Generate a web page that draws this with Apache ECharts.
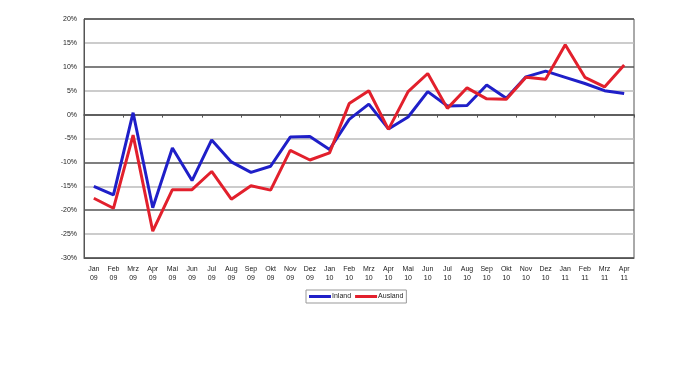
<!DOCTYPE html>
<html>
<head>
<meta charset="utf-8">
<script src="https://cdn.jsdelivr.net/npm/echarts@6/dist/echarts.min.js"></script>
<style>
html,body{margin:0;padding:0;background:#fff;}
#chart{width:700px;height:371px;}
</style>
</head>
<body>
<div id="chart"></div>
<script>
const months = ['Jan','Feb','Mrz','Apr','Mai','Jun','Jul','Aug','Sep','Okt','Nov','Dez','Jan','Feb','Mrz','Apr','Mai','Jun','Jul','Aug','Sep','Okt','Nov','Dez','Jan','Feb','Mrz','Apr'];
const years = ['09','09','09','09','09','09','09','09','09','09','09','09','10','10','10','10','10','10','10','10','10','10','10','10','11','11','11','11'];
const categories = months.map((m, i) => m + '\n' + years[i]);
const inland = [-15.0,-16.8,0.4,-19.5,-7.0,-13.8,-5.3,-9.9,-12.1,-10.8,-4.7,-4.6,-7.3,-1.0,2.2,-3.0,-0.5,4.8,1.8,1.9,6.2,3.4,7.9,9.1,7.8,6.5,5.0,4.4];
const ausland = [-17.5,-19.6,-4.3,-24.4,-15.7,-15.7,-11.9,-17.7,-14.9,-15.8,-7.5,-9.5,-8.0,2.3,5.0,-3.1,4.8,8.6,1.3,5.6,3.3,3.2,7.8,7.4,14.6,7.8,5.8,10.4];
const yTicks = {min: -30, max: 20, interval: 5};

const chart = echarts.init(document.getElementById('chart'));
const fontFamily = '"Liberation Sans", Arial, sans-serif';
chart.setOption({
  animation: false,
  backgroundColor: '#fff',
  grid: {left: 84, right: 66, top: 19, bottom: 113, containLabel: false,
         show: true, borderColor: '#555', borderWidth: 1},
  legend: {
    data: ['Inland', 'Ausland'],
    left: 306, top: 290,
    itemWidth: 22, itemHeight: 3, itemGap: 4,
    icon: 'rect',
    padding: [3, 3],
    borderColor: '#999', borderWidth: 1,
    textStyle: {fontSize: 7, fontFamily: fontFamily, color: '#222', padding: [0,0,0,-4]}
  },
  xAxis: [{
    type: 'category',
    data: categories,
    boundaryGap: true,
    axisLine: {onZero: false, lineStyle: {color: '#555', width: 1}},
    axisTick: {show: false},
    axisLabel: {interval: 0, fontSize: 7, fontFamily: fontFamily, color: '#222', lineHeight: 9, margin: 7}
  }, {
    type: 'category',
    data: categories,
    boundaryGap: true,
    position: 'bottom',
    axisLine: {onZero: true, lineStyle: {color: '#555', width: 1.5}},
    axisTick: {show: true, length: 3, lineStyle: {color: '#555'}},
    axisLabel: {show: false}
  }],
  yAxis: {
    type: 'value',
    min: yTicks.min, max: yTicks.max, interval: yTicks.interval,
    axisLine: {show: true, lineStyle: {color: '#555', width: 1}},
    axisTick: {show: false},
    axisLabel: {formatter: v => v + '%', fontSize: 7, fontFamily: fontFamily, color: '#222', margin: 7},
    splitLine: {show: true, lineStyle: {color: ['#555', '#bbb'], width: 1.5}}
  },
  series: [{
    name: 'Inland', type: 'line', data: inland,
    symbol: 'none', color: '#1f1fc8',
    lineStyle: {width: 3, color: '#1f1fc8'}, z: 3
  }, {
    name: 'Ausland', type: 'line', data: ausland,
    symbol: 'none', color: '#e2202c',
    lineStyle: {width: 3, color: '#e2202c'}, z: 4
  }]
});
</script>
</body>
</html>
